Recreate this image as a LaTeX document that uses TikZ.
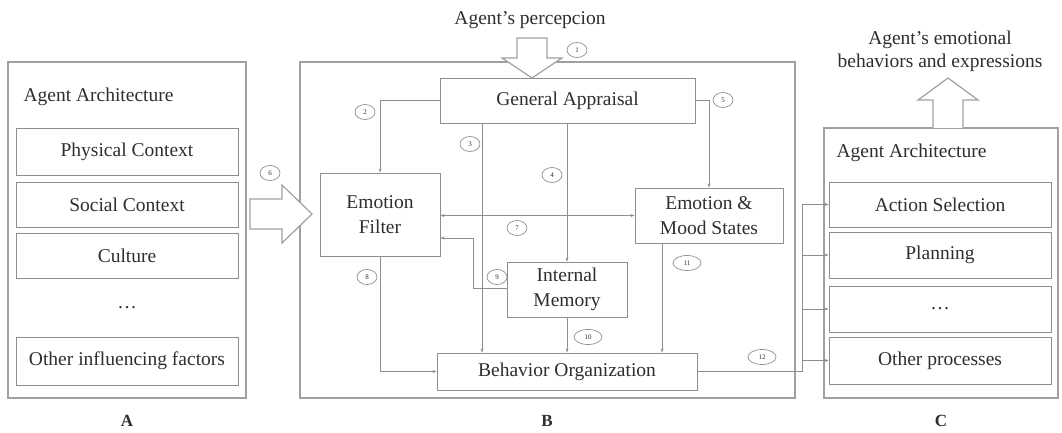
\documentclass[tikz,border=0pt]{standalone}
\usepackage{fontspec}
\setmainfont{Liberation Serif}
\usetikzlibrary{arrows.meta,shapes.geometric}
\definecolor{ink}{HTML}{2E2E2E}
\definecolor{edge}{HTML}{8E8E8E}
\definecolor{frame}{HTML}{A0A0A0}
\begin{document}
\begin{tikzpicture}[x=1pt,y=-1pt,
  txt/.style={font=\fontsize{19.5}{25}\selectfont, text=ink, align=center},
  panelname/.style={font=\fontsize{17}{20}\selectfont\bfseries, text=ink},
  panel/.style={draw=frame, line width=1.3pt, inner sep=0pt},
  box/.style={txt, draw=edge, line width=0.9pt, inner sep=0pt},
  lab/.style={draw=edge, ellipse, line width=0.7pt, inner sep=0pt,
    minimum width=20pt, minimum height=15pt, text=ink,
    font=\fontsize{7}{8}\selectfont},
  widelab/.style={lab, minimum width=28pt},
  arr/.style={draw=edge, line width=0.9pt, -{Stealth[length=4pt,width=3pt]}},
  link/.style={draw=edge, line width=0.9pt},
  blockarrow/.style={draw=frame, line width=1.2pt, fill=white, line join=miter}
]
\useasboundingbox (0,0) rectangle (1062,433);

% ---------- panel A: influencing factors ----------
\node[panel, minimum width=238pt, minimum height=336pt] (A) at (127,230) {};
\node[txt, anchor=west] (Atitle) at (20,97) {Agent Architecture};
\node[box, minimum width=222pt, minimum height=47pt] (phys) at (127,151.5) {Physical Context};
\node[box, minimum width=222pt, minimum height=45pt] (soc) at (127,204.5) {Social Context};
\node[box, minimum width=222pt, minimum height=45pt] (cult) at (127,255.5) {Culture};
\node[txt] (Adots) at (127,308) {…};
\node[box, minimum width=222pt, minimum height=48pt] (other) at (127,361) {Other influencing factors};
\node[panelname] (Aname) at (127,421) {A};

% ---------- panel B: emotion process ----------
\node[panel, minimum width=495pt, minimum height=336pt] (B) at (547.5,230) {};
\node[box, minimum width=255pt, minimum height=45pt] (GA) at (567.5,100.5) {General Appraisal};
\node[box, minimum width=120pt, minimum height=83pt] (EF) at (380,214.5) {Emotion\\Filter};
\node[box, minimum width=148pt, minimum height=55pt] (EM) at (709,215.5) {Emotion \&\\Mood States};
\node[box, minimum width=120pt, minimum height=55pt] (IM) at (567,289.5) {Internal\\Memory};
\node[box, minimum width=260pt, minimum height=37pt] (BO) at (567,371.5) {Behavior Organization};
\node[panelname] (Bname) at (547,421) {B};

% ---------- panel C: agent architecture ----------
\node[panel, minimum width=234pt, minimum height=270pt] (C) at (941,263) {};
\node[txt, anchor=west] (Ctitle) at (833,153) {Agent Architecture};
\node[box, minimum width=222pt, minimum height=45pt] (AS) at (940,204.5) {Action Selection};
\node[box, minimum width=222pt, minimum height=46pt] (PL) at (940,255) {Planning};
\node[box, minimum width=222pt, minimum height=46pt] (DT) at (940,309) {…};
\node[box, minimum width=222pt, minimum height=47pt] (OP) at (940,360.5) {Other processes};
\node[panelname] (Cname) at (941,421) {C};

% ---------- inputs and outputs ----------
\node[txt] (perc) at (530,20) {Agent’s percepcion};
\node[txt, font=\fontsize{19.5}{23}\selectfont] (expr) at (940,51) {Agent’s emotional\\behaviors and expressions};

% block arrows
\draw[blockarrow] (517,38) -- (547,38) -- (547,58) -- (562,58) -- (532,78)
  -- (502,58) -- (517,58) -- cycle;
\draw[blockarrow] (250,199) -- (282,199) -- (282,185) -- (312,214) -- (282,243)
  -- (282,229) -- (250,229) -- cycle;
\draw[blockarrow] (933,128) -- (933,100) -- (918,100) -- (948,78) -- (978,100)
  -- (963,100) -- (963,128);

% ---------- connectors inside B ----------
\coordinate (x3) at (482,0);
\coordinate (x9) at (473,0);
\coordinate (y9a) at (0,288);
\coordinate (y9b) at (0,238);
\coordinate (x11) at (662,0);
\coordinate (x12) at (802,0);

\draw[arr] (GA.west) -| (EF.north);
\draw[arr] (GA.south -| x3) -- (BO.north -| x3);
\draw[arr] (GA.south -| IM.north) -- (IM.north);
\draw[arr] (GA.east) -| (EM.north);
\draw[link, {Stealth[length=4pt,width=3pt]}-{Stealth[length=4pt,width=3pt]}]
  (EF.east |- EM.west) -- (EM.west);
\draw[arr] (EF.south) |- (BO.west);
\draw[arr] (IM.west |- y9a) -| (x9 |- y9b) -- (EF.east |- y9b);
\draw[arr] (IM.south) -- (BO.north -| IM.south);
\draw[arr] (EM.south -| x11) -- (BO.north -| x11);

% output of B feeding every process of C
\draw[link] (BO.east) -| (AS.west -| x12);
\foreach \n in {AS,PL,DT,OP} \draw[arr] (\n.west -| x12) -- (\n.west);

% ---------- numbered labels ----------
\node[lab] (l1) at (577,50) {1};
\node[lab] (l2) at (365,112) {2};
\node[lab] (l3) at (470,144) {3};
\node[lab] (l4) at (552,175) {4};
\node[lab] (l5) at (723,100) {5};
\node[lab] (l6) at (270,173) {6};
\node[lab] (l7) at (517,228) {7};
\node[lab] (l8) at (367,277) {8};
\node[lab] (l9) at (497,277) {9};
\node[widelab] (l10) at (588,337) {10};
\node[widelab] (l11) at (687,263) {11};
\node[widelab] (l12) at (762,357) {12};
\end{tikzpicture}
\end{document}
